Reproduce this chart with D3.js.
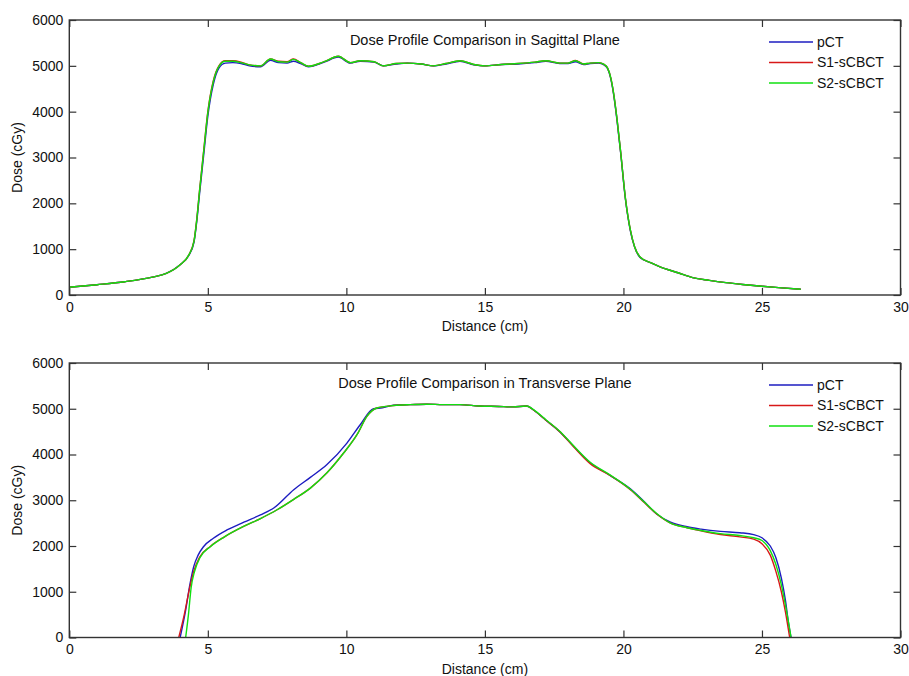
<!DOCTYPE html>
<html>
<head>
<meta charset="utf-8">
<script src="https://cdn.jsdelivr.net/npm/d3@7"></script>
<style>
  body { margin: 0; background: #fff; }
  svg text { font-family: Arial, "Liberation Sans", sans-serif; fill: #111; }
</style>
</head>
<body>
<svg id="chart"></svg>
<script>
// ---- data ----
const xTicks = [0, 5, 10, 15, 20, 25, 30];
const yTicks = [0, 1000, 2000, 3000, 4000, 5000, 6000];
const seriesNames = ['pCT', 'S1-sCBCT', 'S2-sCBCT'];
const seriesColors = ['#1c1cc0', '#d81818', '#10e010'];

// sagittal plane (top)
const sagX   = [0, 1, 2, 3, 3.5, 4, 4.3, 4.5, 4.6, 4.7, 4.85, 5.0, 5.2, 5.4, 5.63, 5.9, 6.2, 6.5, 6.9, 7.26, 7.55, 7.86, 8.09, 8.35, 8.63, 9.2, 9.71, 10.14, 10.5, 11.0, 11.33, 11.8, 12.2, 12.7, 13.14, 13.6, 14.1, 14.6, 15.0, 15.6, 16.2, 16.8, 17.2, 17.7, 18.0, 18.27, 18.56, 18.8, 19.1, 19.3, 19.42, 19.55, 19.64, 19.77, 19.9, 20.07, 20.25, 20.4, 20.6, 21.0, 21.3, 22.0, 22.5, 23.1, 23.7, 24.3, 24.9, 25.6, 26.4];
const sagPCT = [170, 225, 290, 390, 470, 660, 850, 1150, 1600, 2200, 3050, 3900, 4600, 4950, 5060, 5070, 5050, 5000, 4980, 5120, 5070, 5060, 5100, 5050, 4980, 5080, 5190, 5060, 5100, 5080, 5000, 5040, 5060, 5040, 5000, 5040, 5100, 5020, 5000, 5030, 5040, 5070, 5100, 5050, 5050, 5090, 5030, 5050, 5060, 5020, 4950, 4700, 4400, 3800, 3100, 2100, 1400, 1050, 820, 700, 620, 480, 380, 320, 270, 230, 195, 160, 125];
const sagS1  = [170, 225, 290, 390, 470, 660, 860, 1180, 1650, 2280, 3150, 4000, 4680, 5000, 5110, 5110, 5080, 5020, 5000, 5150, 5100, 5090, 5150, 5070, 4990, 5090, 5210, 5070, 5110, 5090, 5000, 5050, 5060, 5040, 5000, 5050, 5110, 5030, 5000, 5030, 5050, 5080, 5110, 5060, 5060, 5120, 5040, 5060, 5070, 5030, 4960, 4720, 4420, 3830, 3120, 2120, 1420, 1060, 830, 700, 620, 480, 380, 320, 270, 230, 195, 160, 125];
const sagS2  = [170, 225, 290, 390, 470, 660, 860, 1170, 1640, 2260, 3130, 3980, 4660, 4990, 5100, 5100, 5070, 5020, 5000, 5150, 5090, 5080, 5140, 5070, 4990, 5090, 5210, 5070, 5110, 5090, 5000, 5050, 5060, 5040, 5000, 5050, 5110, 5030, 5000, 5030, 5050, 5080, 5110, 5060, 5060, 5110, 5040, 5060, 5070, 5030, 4960, 4720, 4420, 3830, 3120, 2120, 1420, 1060, 830, 700, 620, 480, 380, 320, 270, 230, 195, 160, 125];

// transverse plane (bottom)
const traXPCT = [4.0, 4.2, 4.35, 4.49, 4.65, 4.85, 5.2, 5.69, 6.3, 6.9, 7.38, 8.1, 8.7, 9.3, 10.02, 10.5, 10.98, 11.3, 11.7, 12.3, 12.9, 13.5, 14.1, 14.8, 15.5, 16.0, 16.5, 16.8, 17.2, 17.7, 18.2, 18.8, 19.5, 20.25, 20.7, 21.2, 21.7, 22.3, 22.8, 23.5, 24.2, 24.7, 25.0, 25.3, 25.5, 25.7, 25.85, 25.95, 26.05];
const traPCT  = [0, 600, 1150, 1550, 1800, 1990, 2170, 2350, 2520, 2680, 2830, 3230, 3500, 3780, 4250, 4650, 5000, 5020, 5080, 5090, 5100, 5090, 5090, 5060, 5050, 5040, 5060, 4950, 4750, 4500, 4180, 3820, 3550, 3250, 3000, 2700, 2520, 2420, 2370, 2320, 2290, 2250, 2180, 2000, 1750, 1300, 800, 350, 0];
const traXS1  = [3.95, 4.15, 4.35, 4.49, 4.7, 5.09, 5.6, 6.29, 6.9, 7.5, 8.1, 8.7, 9.3, 9.9, 10.4, 10.74, 11.1, 11.7, 12.3, 12.9, 13.5, 14.1, 14.8, 15.5, 16.0, 16.5, 16.8, 17.2, 17.7, 18.2, 18.8, 19.5, 20.25, 20.7, 21.2, 21.7, 22.3, 22.8, 23.5, 24.2, 24.7, 25.0, 25.3, 25.5, 25.7, 25.85, 26.0];
const traS1   = [0, 500, 1100, 1443, 1750, 1990, 2200, 2427, 2600, 2792, 3020, 3266, 3600, 4032, 4450, 4833, 5016, 5070, 5090, 5100, 5090, 5090, 5060, 5050, 5040, 5060, 4950, 4750, 4500, 4170, 3800, 3550, 3230, 2980, 2700, 2500, 2400, 2330, 2250, 2200, 2150, 2050, 1800, 1450, 1000, 550, 0];
const traXS2  = [4.2, 4.3, 4.4, 4.52, 4.72, 5.1, 5.6, 6.29, 6.9, 7.5, 8.1, 8.7, 9.3, 9.9, 10.4, 10.74, 11.1, 11.7, 12.3, 12.9, 13.5, 14.1, 14.8, 15.5, 16.0, 16.5, 16.8, 17.2, 17.7, 18.2, 18.8, 19.5, 20.25, 20.7, 21.2, 21.7, 22.3, 22.8, 23.5, 24.2, 24.7, 25.0, 25.3, 25.5, 25.7, 25.85, 26.05];
const traS2   = [0, 500, 1100, 1443, 1750, 1990, 2200, 2427, 2600, 2792, 3020, 3266, 3600, 4032, 4450, 4833, 5016, 5070, 5090, 5100, 5090, 5090, 5060, 5050, 5040, 5060, 4960, 4760, 4510, 4190, 3830, 3560, 3240, 2990, 2710, 2500, 2400, 2340, 2270, 2230, 2180, 2120, 1900, 1600, 1150, 700, 0];

const panels = [
  {
    title: 'Dose Profile Comparison in Sagittal Plane',
    top: 20, bottom: 295,
    series: [[sagX, sagPCT], [sagX, sagS1], [sagX, sagS2]]
  },
  {
    title: 'Dose Profile Comparison in Transverse Plane',
    top: 363, bottom: 637.5,
    series: [[traXPCT, traPCT], [traXS1, traS1], [traXS2, traS2]]
  }
];

const width = 909;
const height = 676;
const left = 69.3;
const right = 900.5;
const tickLen = 7;

const svg = d3.select('#chart')
  .attr('width', width)
  .attr('height', height);

const x = d3.scaleLinear().domain([0, 30]).range([left, right]);

panels.forEach(p => {
  const y = d3.scaleLinear().domain([0, 6000]).range([p.bottom, p.top]);
  const g = svg.append('g');

  const line = d3.line()
    .x(d => x(d[0]))
    .y(d => y(d[1]))
    .curve(d3.curveMonotoneX);

  // curves, green drawn last like the original
  p.series.forEach((s, i) => {
    const pts = s[0].map((v, j) => [v, s[1][j]]);
    g.append('path')
      .datum(pts)
      .attr('d', line)
      .attr('fill', 'none')
      .attr('stroke', seriesColors[i])
      .attr('stroke-width', 1.4);
  });

  // box + inward ticks on all four sides
  const axisColor = '#333';
  g.append('rect')
    .attr('x', left).attr('y', p.top)
    .attr('width', right - left).attr('height', p.bottom - p.top)
    .attr('fill', 'none').attr('stroke', axisColor).attr('stroke-width', 1.4);

  const xa = d3.axisBottom(x).tickValues(xTicks).tickSize(-tickLen).tickPadding(7).tickFormat(d3.format('d'));
  const xAx = g.append('g').attr('transform', `translate(0,${p.bottom})`).call(xa);
  const xaTop = d3.axisTop(x).tickValues(xTicks).tickSize(-tickLen).tickFormat('');
  const xAxT = g.append('g').attr('transform', `translate(0,${p.top})`).call(xaTop);

  const ya = d3.axisLeft(y).tickValues(yTicks).tickSize(-tickLen).tickPadding(6).tickFormat(d3.format('d'));
  const yAx = g.append('g').attr('transform', `translate(${left},0)`).call(ya);
  const yaR = d3.axisRight(y).tickValues(yTicks).tickSize(-tickLen).tickFormat('');
  const yAxR = g.append('g').attr('transform', `translate(${right},0)`).call(yaR);

  [xAx, xAxT, yAx, yAxR].forEach(a => {
    a.select('.domain').remove();
    a.selectAll('line').attr('stroke', axisColor).attr('stroke-width', 1.2);
    a.selectAll('text')
      .attr('fill', '#111')
      .style('font-size', '14px')
      .style('font-family', 'Arial, "Liberation Sans", sans-serif');
  });

  // title
  g.append('text')
    .attr('x', (left + right) / 2)
    .attr('y', p.top + 25)
    .attr('text-anchor', 'middle')
    .style('font-size', '14.5px')
    .text(p.title);

  // axis labels
  g.append('text')
    .attr('x', (left + right) / 2)
    .attr('y', p.bottom + 36)
    .attr('text-anchor', 'middle')
    .style('font-size', '14px')
    .text('Distance (cm)');

  g.append('text')
    .attr('transform', `translate(22,${(p.top + p.bottom) / 2}) rotate(-90)`)
    .attr('text-anchor', 'middle')
    .style('font-size', '14px')
    .text('Dose (cGy)');

  // legend
  const lg = g.append('g').attr('transform', `translate(769,${p.top + 22})`);
  seriesNames.forEach((name, i) => {
    const row = lg.append('g').attr('transform', `translate(0,${i * 20.5})`);
    row.append('line')
      .attr('x1', 0).attr('x2', 44)
      .attr('stroke', seriesColors[i]).attr('stroke-width', 1.4);
    row.append('text')
      .attr('x', 48).attr('dy', '0.35em')
      .style('font-size', '14px')
      .text(name);
  });
});
</script>
</body>
</html>
